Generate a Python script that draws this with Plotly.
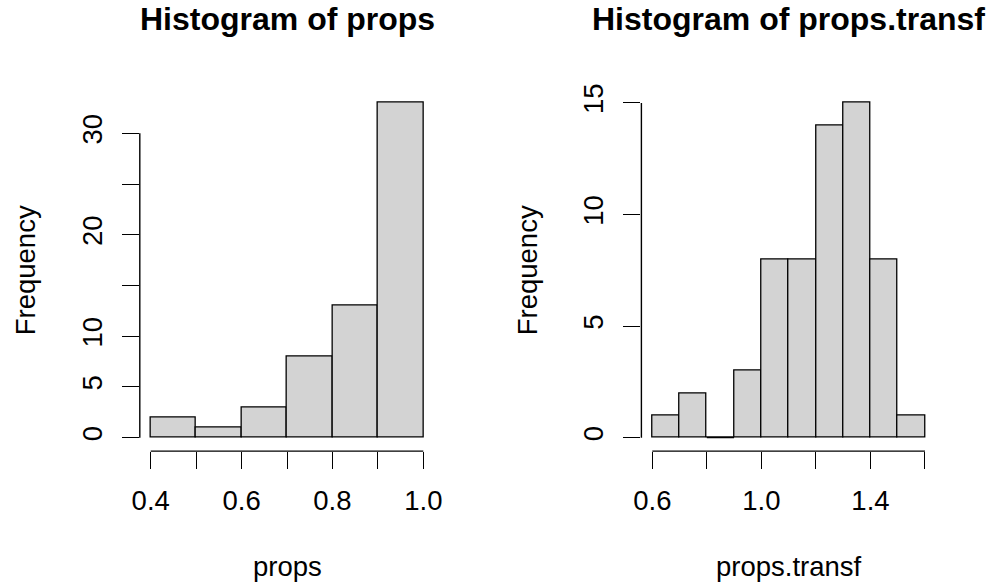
import plotly.graph_objects as go

# ---- data ----
props_breaks = [0.4, 0.5, 0.6, 0.7, 0.8, 0.9, 1.0]
props_counts = [2, 1, 3, 8, 13, 33]
props_xticks = [0.4, 0.5, 0.6, 0.7, 0.8, 0.9, 1.0]
props_xticktext = ["0.4", "", "0.6", "", "0.8", "", "1.0"]
props_yticks = [0, 5, 10, 15, 20, 25, 30]
props_yticktext = ["0", "5", "10", "", "20", "", "30"]

transf_breaks = [0.6, 0.7, 0.8, 0.9, 1.0, 1.1, 1.2, 1.3, 1.4, 1.5, 1.6]
transf_counts = [1, 2, 0, 3, 8, 8, 14, 15, 8, 1]
transf_xticks = [0.6, 0.8, 1.0, 1.2, 1.4, 1.6]
transf_xticktext = ["0.6", "", "1.0", "", "1.4", ""]
transf_yticks = [0, 5, 10, 15]
transf_yticktext = ["0", "5", "10", "15"]

titles = ["Histogram of props", "Histogram of props.transf"]
xlabels = ["props", "props.transf"]
ylabel = "Frequency"

W, H = 990, 588
FONT = "Liberation Sans, Arial, Helvetica, sans-serif"
FS = 27.5
BAR_FILL = "#D3D3D3"

dom_y = [1 - 451.1 / H, 1 - 89.5 / H]
dom_x = [[139.8 / W, 434.2 / W], [641.4 / W, 935.9 / W]]

fig = go.Figure()

panels = [
    (props_breaks, props_counts, props_xticks, props_xticktext, props_yticks, props_yticktext),
    (transf_breaks, transf_counts, transf_xticks, transf_xticktext, transf_yticks, transf_yticktext),
]

for i, (br, ct, xt, xtt, yt, ytt) in enumerate(panels):
    xa = "x" if i == 0 else "x2"
    ya = "y" if i == 0 else "y2"
    centers = [(br[k] + br[k + 1]) / 2 for k in range(len(ct))]
    widths = [br[k + 1] - br[k] for k in range(len(ct))]
    fig.add_trace(go.Bar(
        x=centers, y=ct, width=widths, xaxis=xa, yaxis=ya,
        marker=dict(color=BAR_FILL, line=dict(color="black", width=1.3)),
        showlegend=False, hoverinfo="x+y",
    ))
    # zero-count bins: R draws a flat rectangle (a line on the baseline)
    for k, c in enumerate(ct):
        if c == 0:
            fig.add_trace(go.Scatter(
                x=[br[k], br[k + 1]], y=[0, 0], xaxis=xa, yaxis=ya, mode="lines",
                line=dict(color="black", width=1.2), showlegend=False, hoverinfo="skip",
            ))
    xr = br[-1] - br[0]
    ymax = max(ct)
    xaxis = dict(
        domain=dom_x[i], range=[br[0] - 0.04 * xr, br[-1] + 0.04 * xr],
        anchor=ya, showgrid=False, zeroline=False, showline=False, automargin=False,
        ticks="outside", ticklen=17, tickwidth=1.4, tickcolor="black",
        tickmode="array", tickvals=xt, ticktext=xtt,
        tickfont=dict(family=FONT, size=FS, color="black"),
        ticklabelstandoff=8, fixedrange=True,
    )
    yaxis = dict(
        domain=dom_y, range=[-0.04 * ymax, ymax * 1.04],
        anchor=xa, showgrid=False, zeroline=False, showline=False, automargin=False,
        ticks="outside", ticklen=17, tickwidth=1.4, tickcolor="black",
        tickmode="array", tickvals=yt, ticktext=ytt, tickangle=-90,
        tickfont=dict(family=FONT, size=FS, color="black"),
        ticklabelstandoff=9, fixedrange=True,
    )
    sfx = "" if i == 0 else "2"
    fig.update_layout(**{"xaxis" + sfx: xaxis, "yaxis" + sfx: yaxis})

    # R-style axis lines spanning only first..last tick
    fig.add_shape(type="line", xref=xa, yref=ya + " domain",
                  x0=min(xt), x1=max(xt), y0=0, y1=0,
                  line=dict(color="black", width=1.4))
    fig.add_shape(type="line", xref=xa + " domain", yref=ya,
                  x0=0, x1=0, y0=min(yt), y1=max(yt),
                  line=dict(color="black", width=1.4))

    cx = (dom_x[i][0] + dom_x[i][1]) / 2
    fig.add_annotation(text="<b>" + titles[i] + "</b>", xref="paper", yref="paper",
                       x=cx, y=1 - 19 / H, xanchor="center", yanchor="middle",
                       showarrow=False, font=dict(family=FONT, size=32, color="black"))
    fig.add_annotation(text=xlabels[i], xref="paper", yref="paper",
                       x=cx, y=1 - 566 / H, xanchor="center", yanchor="middle",
                       showarrow=False, font=dict(family=FONT, size=FS, color="black"))
    lx = 25 if i == 0 else 527
    fig.add_annotation(text=ylabel, xref="paper", yref="paper", textangle=-90,
                       x=lx / W, y=(dom_y[0] + dom_y[1]) / 2, xanchor="center", yanchor="middle",
                       showarrow=False, font=dict(family=FONT, size=FS, color="black"))

fig.update_layout(
    width=W, height=H, margin=dict(l=0, r=0, t=0, b=0, autoexpand=False),
    plot_bgcolor="white", paper_bgcolor="white", bargap=0,
    font=dict(family=FONT, size=FS, color="black"),
)

fig.write_html("out.html", config={"displayModeBar": False},
               post_script="document.body.style.margin='0';document.body.style.overflow='hidden';")
